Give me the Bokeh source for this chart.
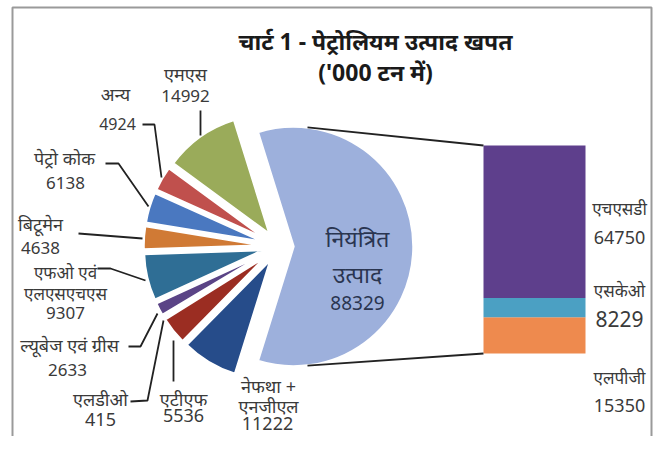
import numpy as np
from bokeh.plotting import figure
from bokeh.models import Range1d
from bokeh.core.properties import value
from bokeh.embed import file_html
from bokeh.resources import INLINE

# ---------------- data ----------------
main_label = ["नियंत्रित", "उत्पाद"]
main_value = 88329

pie_names = ["एमएस", "अन्य", "पेट्रो कोक", "बिटूमेन", "एफओ एवं एलएसएचएस",
             "ल्यूबेज एवं ग्रीस", "एलडीओ", "एटीएफ", "नेफथा + एनजीएल"]
pie_values = [14992, 4924, 6138, 4638, 9307, 2633, 415, 5536, 11222]
pie_colors = ["#9AAB5A", "#C0504D", "#4A78C0", "#D07A35", "#2F6E95",
              "#5B4486", "#C8BCA8", "#9B2D22", "#264C8A"]
main_color = "#9DB0DC"

bar_names = ["एचएसडी", "एसकेओ", "एलपीजी"]
bar_values = [64750, 8229, 15350]
bar_colors = ["#5E3F8C", "#4BA0C3", "#EE8A4E"]

title_lines = ["चार्ट 1 - पेट्रोलियम उत्पाद खपत", "('000 टन में)"]

# ---------------- layout ----------------
W, H = 653, 436
PAGE_H = 452


def Y(sy):
    return PAGE_H - sy


p = figure(width=W, height=H, x_range=Range1d(0, W), y_range=Range1d(PAGE_H - H, PAGE_H),
           output_backend="svg", toolbar_location=None, min_border=0)
p.axis.visible = False
p.grid.visible = False
p.outline_line_color = None
p.background_fill_color = "white"
p.border_fill_color = "white"

DEV = value("Noto Sans")
NUM = value("Noto Sans")
TXT = "#3a3a3a"

# frame
p.line(x=[12, 12, 651, 651], y=[Y(452), Y(7), Y(7), Y(452)], line_color="#9a9a9a", line_width=2)

# ---------------- pie ----------------
total = main_value + sum(pie_values)
cx, cy = 278.0, Y(246)
R, EXP = 120.0, 15.0
main_ang = 2 * np.pi * main_value / total
m_start, m_end = -main_ang / 2, main_ang / 2

starts, ends, xs, ys = [m_start], [m_end], [cx + EXP], [cy]
cols = [main_color]
a = m_end
for v, c in zip(pie_values, pie_colors):
    da = 2 * np.pi * v / total
    mid = a + da / 2
    starts.append(a)
    ends.append(a + da)
    xs.append(cx + EXP * np.cos(mid))
    ys.append(cy + EXP * np.sin(mid))
    cols.append(c)
    a += da

p.wedge(x=xs, y=ys, radius=R, start_angle=starts, end_angle=ends,
        fill_color=cols, line_color="white", line_width=2.5)

# ---------------- bar ----------------
bar_left, bar_right = 483, 585
bar_bottom, bar_top = Y(353), Y(145)
scale = (bar_top - bar_bottom) / sum(bar_values)
vals_bottom_up = bar_values[::-1]
cols_bottom_up = bar_colors[::-1]
cum = np.concatenate([[0], np.cumsum(vals_bottom_up)])
p.quad(left=bar_left, right=bar_right,
       bottom=bar_bottom + cum[:-1] * scale, top=bar_bottom + cum[1:] * scale,
       fill_color=cols_bottom_up, line_color=None)

# connector lines from the main slice to the bar
ca = np.deg2rad(83.3)
mx = cx + EXP
p.line(x=[mx + R * np.cos(ca), bar_left], y=[cy + R * np.sin(ca), bar_top],
       line_color="#222222", line_width=1.8)
p.line(x=[mx + R * np.cos(ca), bar_left], y=[cy - R * np.sin(ca), bar_bottom],
       line_color="#222222", line_width=1.8)

# ---------------- leader lines ----------------
leaders = [
    [(200, 110), (200, 135)],
    [(142, 124), (154, 124), (161, 177)],
    [(105, 163), (118, 163), (148, 206)],
    [(78, 233), (142, 238)],
    [(97, 268), (110, 268), (145, 280)],
    [(128, 346), (140, 346), (157, 313)],
    [(130, 401), (147, 400), (163, 320)],
    [(173, 340), (173, 381)],
]
for pts in leaders:
    p.line(x=[q[0] for q in pts], y=[Y(q[1]) for q in pts], line_color="#222222", line_width=1.8)


# ---------------- labels ----------------
def label(x, sy, text, size="18px", color=TXT, style="normal", font=DEV):
    p.text(x=[x], y=[Y(sy)], text=[text], text_align="center", text_baseline="middle",
           text_font=font, text_font_size=size, text_color=color, text_font_style=style)


def num(x, sy, v, size="17px", color=TXT):
    label(x, sy, str(v), size=size, color=color, font=NUM)


label(185, 73, pie_names[0]); num(185, 95, pie_values[0])
label(115, 93, pie_names[1]); num(117, 123, pie_values[1], size="16px")
label(64, 157, pie_names[2]); num(65, 182, pie_values[2])
label(40, 223, pie_names[3]); num(40, 247, pie_values[3])
fo = pie_names[4].split(" एल")
label(65, 272, fo[0], size="17px"); label(65, 293, "एल" + fo[1], size="17px"); num(65, 312, pie_values[4])
label(69, 344, pie_names[5]); num(67, 369, pie_values[5])
label(100, 398, pie_names[6]); num(100, 419, pie_values[6], size="18px")
label(183, 398, pie_names[7]); num(183, 415, pie_values[7], size="18px")
nn = pie_names[8].split(" + ")
label(268, 385, nn[0] + " +"); label(268, 405, nn[1]); num(267, 423, pie_values[8], size="18px")

label(357, 237, main_label[0], size="23px", color="#2a3550")
label(357, 273, main_label[1], size="23px", color="#2a3550")
num(357, 302, main_value, size="19px", color="#2a3550")

RX = 619
label(RX, 208, bar_names[0], size="17px"); num(RX, 237, bar_values[0], size="18px")
label(RX, 290, bar_names[1], size="17px"); num(RX, 318, bar_values[1], size="21px")
label(RX, 377, bar_names[2], size="17px"); num(RX, 405, bar_values[2], size="18px")

label(375, 40, title_lines[0], size="23px", color="#1a1a1a", style="bold")
label(375, 71, title_lines[1], size="23px", color="#1a1a1a", style="bold")

open("out.html", "w").write(file_html(p, INLINE))
